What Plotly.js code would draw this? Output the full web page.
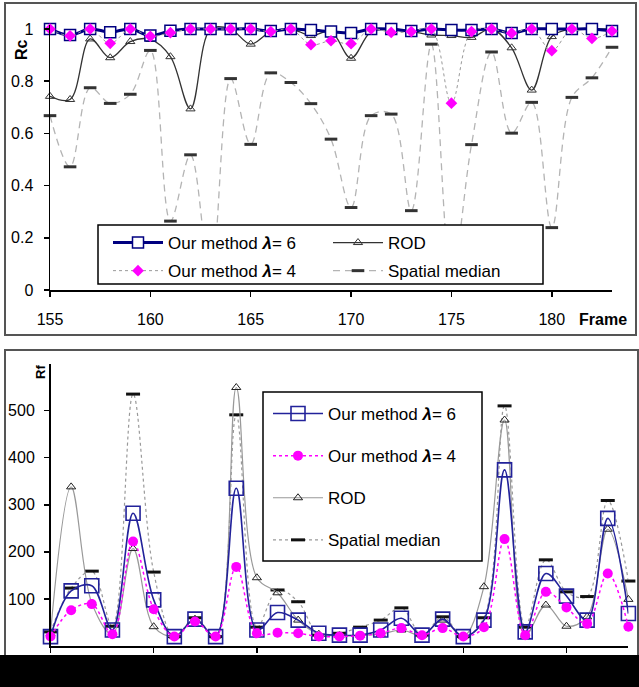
<!DOCTYPE html>
<html>
<head>
<meta charset="utf-8">
<script src="https://cdn.plot.ly/plotly-3.0.1.min.js"></script>
<style>html,body{margin:0;padding:0;background:#fff;}#chart{width:639px;height:687px;}</style>
</head>
<body>
<div id="chart"></div>
<script>
// ---- data ----
const frames = [155,156,157,158,159,160,161,162,163,164,165,166,167,168,169,170,171,172,173,174,175,176,177,178,179,180,181,182,183];
const xTicks = [155,160,165,170,175,180];

// Top panel: Rc
const rcLam6 = [1.0,0.977,1.0,0.988,1.0,0.975,0.993,1.0,1.0,1.0,1.0,0.992,1.0,0.996,0.99,0.985,1.0,1.0,0.992,1.0,0.996,0.996,1.0,0.985,1.0,1.0,1.0,1.0,0.992];
const rcLam4 = [1.0,0.974,1.0,0.945,1.0,0.972,0.986,1.0,1.0,1.0,1.0,0.99,1.0,0.94,0.955,0.944,1.0,0.987,0.99,1.0,0.716,0.99,1.0,0.984,1.0,0.917,1.0,0.964,0.992];
const rcRod  = [0.742,0.73,0.962,0.89,0.952,0.96,0.894,0.694,1.0,1.0,0.942,0.99,1.0,0.975,0.99,0.888,0.99,0.996,0.99,0.977,0.975,0.968,1.0,0.928,0.766,0.971,1.0,1.0,1.0];
const rcSm   = [0.668,0.472,0.775,0.715,0.75,0.918,0.264,0.518,0.05,0.81,0.558,0.832,0.795,0.714,0.578,0.316,0.668,0.674,0.304,0.942,0.05,0.557,0.912,0.601,0.719,0.239,0.738,0.813,0.93];

// Bottom panel: Rf
const rfLam6 = [20,117,128,34,282,98,20,57,20,335,34,71,55,27,23,23,34,59,23,57,20,55,374,30,154,106,55,271,69];
const rfLam4 = [20,76,89,25,222,78,20,52,20,168,27,28,27,20,20,22,27,38,23,38,20,40,227,23,115,82,47,154,41];
const rfRod  = [27,338,91,25,207,41,20,57,20,549,145,113,55,25,22,23,25,34,23,55,20,126,480,23,87,42,62,248,99];
const rfSm   = [30,123,159,42,535,157,20,60,20,491,40,119,94,23,27,40,55,81,23,62,20,60,510,40,183,115,105,309,138];
const rfTicks = [100,200,300,400,500];

const names = {
  lam6: 'Our method <b><i>λ</i></b>= 6',
  lam4: 'Our method <b><i>λ</i></b>= 4',
  rod: 'ROD',
  sm: 'Spatial median'
};

// ---- helpers ----
const W = 639, H = 687;
const px = v => v / W;
const py = v => 1 - v / H;
const FONT = 'Liberation Sans, Arial, sans-serif';
const NAVY = '#000080';
const PINK = '#ff00ff';

const traces = [
  // top panel
  {x: frames, y: rcSm, xaxis: 'x', yaxis: 'y', name: names.sm, legend: 'legend3', legendgroup: 'tsm', legendrank: 2,
   mode: 'lines+markers', cliponaxis: false,
   line: {shape: 'spline', smoothing: 1, color: '#b4b4b4', width: 1.3, dash: '7px,5px'},
   marker: {symbol: 'line-ew', size: 9, color: '#333', line: {width: 3, color: '#333'}}},
  {x: frames, y: rcRod, xaxis: 'x', yaxis: 'y', name: names.rod, legend: 'legend3', legendgroup: 'trod', legendrank: 1,
   mode: 'lines+markers', cliponaxis: false,
   line: {shape: 'spline', smoothing: 1, color: '#333', width: 1.3},
   marker: {symbol: 'triangle-up-open', size: 8, color: '#333', line: {width: 1, color: '#333'}}},
  {x: frames, y: rcLam6, xaxis: 'x', yaxis: 'y', name: names.lam6, legend: 'legend', legendgroup: 't6', legendrank: 1,
   mode: 'lines+markers', cliponaxis: false,
   line: {shape: 'spline', smoothing: 1, color: NAVY, width: 3},
   marker: {symbol: 'square', size: 11, color: '#fff', line: {width: 1.5, color: NAVY}}},
  {x: frames, y: rcLam4, xaxis: 'x', yaxis: 'y', name: names.lam4, legend: 'legend', legendgroup: 't4', legendrank: 2,
   mode: 'lines+markers', cliponaxis: false,
   line: {shape: 'spline', smoothing: 1, color: '#999', width: 1, dash: 'dot'},
   marker: {symbol: 'diamond', size: 9, color: PINK, line: {width: 0}}},
  // bottom panel
  {x: frames, y: rfSm, xaxis: 'x2', yaxis: 'y2', name: names.sm, legend: 'legend2', legendgroup: 'bsm', legendrank: 4,
   mode: 'lines+markers', cliponaxis: false,
   line: {shape: 'spline', smoothing: 1, color: '#999', width: 1.2, dash: 'dot'},
   marker: {symbol: 'line-ew', size: 10, color: '#111', line: {width: 3, color: '#111'}}},
  {x: frames, y: rfRod, xaxis: 'x2', yaxis: 'y2', name: names.rod, legend: 'legend2', legendgroup: 'brod', legendrank: 3,
   mode: 'lines+markers', cliponaxis: false,
   line: {shape: 'spline', smoothing: 1, color: '#999', width: 1.2},
   marker: {symbol: 'triangle-up-open', size: 8, color: '#222', line: {width: 1, color: '#222'}}},
  {x: frames, y: rfLam6, xaxis: 'x2', yaxis: 'y2', name: names.lam6, legend: 'legend2', legendgroup: 'b6', legendrank: 1,
   mode: 'lines+markers', cliponaxis: false,
   line: {shape: 'spline', smoothing: 1, color: '#22229a', width: 1.6},
   marker: {symbol: 'square-open', size: 14, color: '#22229a', line: {width: 1.6, color: '#22229a'}}},
  {x: frames, y: rfLam4, xaxis: 'x2', yaxis: 'y2', name: names.lam4, legend: 'legend2', legendgroup: 'b4', legendrank: 2,
   mode: 'lines+markers', cliponaxis: false,
   line: {shape: 'spline', smoothing: 1, color: PINK, width: 1.5, dash: 'dot'},
   marker: {symbol: 'circle', size: 10, color: PINK, line: {width: 0}}}
];

const axisCommon = {
  showline: true, linecolor: '#000', linewidth: 1.5,
  ticks: 'outside', ticklen: 5, tickwidth: 1.5, tickcolor: '#000',
  showgrid: false, zeroline: false, fixedrange: true,
  tickfont: {family: FONT, size: 16, color: '#000'}
};

const layout = {
  width: W, height: H,
  margin: {l: 0, r: 0, t: 0, b: 0},
  paper_bgcolor: '#fff', plot_bgcolor: 'rgba(0,0,0,0)',
  font: {family: FONT, size: 16, color: '#000'},
  showlegend: true,
  xaxis: Object.assign({}, axisCommon, {
    domain: [px(50), px(612)], anchor: 'y', range: [155, 183],
    tickvals: xTicks, ticklabelstandoff: 9
  }),
  yaxis: Object.assign({}, axisCommon, {
    domain: [py(290), py(25.1)], anchor: 'x', range: [0, 1.015],
    tickvals: [0, 0.2, 0.4, 0.6, 0.8, 1], ticktext: ['0', '0.2', '0.4', '0.6', '0.8', '1'],
    ticklabelstandoff: 7
  }),
  xaxis2: Object.assign({}, axisCommon, {
    domain: [px(50.5), px(628.4)], anchor: 'y2', range: [155, 183],
    tickvals: xTicks, showticklabels: false
  }),
  yaxis2: Object.assign({}, axisCommon, {
    domain: [py(646), py(363.5)], anchor: 'x2', range: [0, 600],
    tickvals: rfTicks, ticklabelstandoff: 6
  }),
  legend: {
    x: px(108), y: py(225), xanchor: 'left', yanchor: 'top',
    orientation: 'v', bgcolor: 'rgba(0,0,0,0)', borderwidth: 0,
    itemwidth: 50, tracegroupgap: 3, traceorder: 'grouped',
    font: {family: FONT, size: 17, color: '#000'}
  },
  legend3: {
    x: px(328), y: py(225), xanchor: 'left', yanchor: 'top',
    orientation: 'v', bgcolor: 'rgba(0,0,0,0)', borderwidth: 0,
    itemwidth: 50, tracegroupgap: 3, traceorder: 'grouped',
    font: {family: FONT, size: 17, color: '#000'}
  },
  legend2: {
    x: px(268), y: py(396), xanchor: 'left', yanchor: 'top',
    orientation: 'v', bgcolor: 'rgba(0,0,0,0)', borderwidth: 0,
    itemwidth: 50, tracegroupgap: 17, traceorder: 'grouped',
    font: {family: FONT, size: 17, color: '#000'}
  },
  shapes: [
    // panel frames
    {type: 'rect', xref: 'paper', yref: 'paper', x0: px(5), x1: px(636), y0: py(335), y1: py(3),
     line: {color: '#555', width: 2}, fillcolor: 'rgba(0,0,0,0)', layer: 'below'},
    {type: 'rect', xref: 'paper', yref: 'paper', x0: px(5), x1: px(638), y0: py(700), y1: py(350),
     line: {color: '#555', width: 2}, fillcolor: 'rgba(0,0,0,0)', layer: 'below'},
    // legend boxes
    {type: 'rect', xref: 'paper', yref: 'paper', x0: px(98), x1: px(543), y0: py(284), y1: py(225),
     line: {color: '#000', width: 1.5}, fillcolor: '#fff', layer: 'above'},
    {type: 'rect', xref: 'paper', yref: 'paper', x0: px(263), x1: px(482), y0: py(561), y1: py(392),
     line: {color: '#000', width: 1.5}, fillcolor: '#fff', layer: 'above'},
    // damaged strip at the bottom of the source image
    {type: 'rect', xref: 'paper', yref: 'paper', x0: 0, x1: 1, y0: 0, y1: py(655),
     line: {width: 0}, fillcolor: '#000', layer: 'above'}
  ],
  annotations: [
    {xref: 'paper', yref: 'paper', x: px(603), y: py(319), text: '<b>Frame</b>', showarrow: false,
     xanchor: 'center', yanchor: 'middle', font: {family: FONT, size: 16, color: '#000'}},
    {xref: 'paper', yref: 'paper', x: px(21), y: py(50), text: '<b>Rc</b>', showarrow: false, textangle: -90,
     xanchor: 'center', yanchor: 'middle', font: {family: FONT, size: 16, color: '#000'}},
    {xref: 'paper', yref: 'paper', x: px(40), y: py(372), text: '<b>Rf</b>', showarrow: false, textangle: -90,
     xanchor: 'center', yanchor: 'middle', font: {family: FONT, size: 13, color: '#000'}}
  ]
};

Plotly.newPlot('chart', traces, layout, {staticPlot: true, displayModeBar: false});
</script>
</body>
</html>
